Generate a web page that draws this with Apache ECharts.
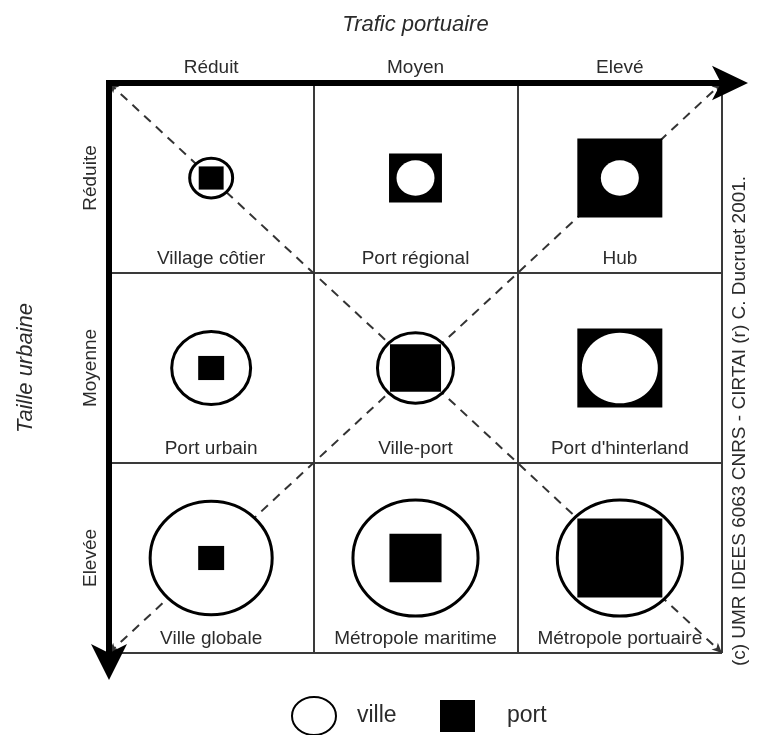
<!DOCTYPE html>
<html><head><meta charset="utf-8">
<script src="https://cdn.jsdelivr.net/npm/echarts@6/dist/echarts.min.js"></script>
<style>html,body{margin:0;padding:0;background:#fff}#c{width:758px;height:735px}</style>
</head><body><div id="c"></div>
<script>
// ---- data ----
const trafic = ['Réduit', 'Moyen', 'Elevé'];            // columns (Trafic portuaire)
const taille = ['Réduite', 'Moyenne', 'Elevée'];        // rows (Taille urbaine)
const typologie = ['Village côtier', 'Port régional', 'Hub',
                   'Port urbain', 'Ville-port', "Port d'hinterland",
                   'Ville globale', 'Métropole maritime', 'Métropole portuaire'];
// relative glyph sizes (in cell units)
const villeSize = [0.225, 0.186, 0.186, 0.401, 0.387, 0.372, 0.612, 0.627, 0.627];
const portSize  = [0.122, 0.259, 0.416, 0.127, 0.250, 0.416, 0.127, 0.255, 0.416];
const diagonales = [[[0, 0], [3, 3]], [[0, 3], [3, 0]]];
const legendNames = ['ville', 'port'];
const titleX = 'Trafic portuaire';
const titleY = 'Taille urbaine';
const credit = '(c) UMR IDEES 6063 CNRS - CIRTAI (r) C. Ducruet 2001.';

const FONT = 'Liberation Sans, Arial, Helvetica, sans-serif';
const TXT = '#2b2b2b';

const cellOf = i => [i % 3 + 0.5, Math.floor(i / 3) + 0.5];
const villeData = villeSize.map((v, i) => cellOf(i).concat([v]));
const portData = portSize.map((v, i) => cellOf(i).concat([v]));
const nameData = typologie.map((n, i) => { const c = cellOf(i); return [c[0], c[1] + 0.425]; });

const chart = echarts.init(document.getElementById('c'));
const axisLineStyle = { color: '#000', width: 6, cap: 'square' };

chart.setOption({
  animation: false,
  backgroundColor: '#fff',
  textStyle: { fontFamily: FONT },
  grid: { left: 109, top: 83, right: 36, bottom: 82 },
  xAxis: [{
    type: 'category', data: trafic, position: 'top', z: 5,
    axisLine: { show: true, symbol: ['none', 'arrow'], symbolSize: [26, 36], symbolOffset: [0, 26], lineStyle: axisLineStyle },
    axisTick: { show: false },
    axisLabel: { margin: 6, fontSize: 19, color: TXT, fontFamily: FONT },
    splitLine: { show: false },
    name: titleX, nameLocation: 'middle', nameGap: 47,
    nameTextStyle: { fontSize: 22, fontStyle: 'italic', color: TXT, fontFamily: FONT }
  }, {
    type: 'value', min: 0, max: 3, interval: 1, position: 'bottom',
    axisLine: { show: false }, axisTick: { show: false }, axisLabel: { show: false },
    splitLine: { show: true, showMinLine: false, lineStyle: { color: '#3a3a3a', width: 2 } }
  }],
  yAxis: [{
    type: 'category', data: taille, inverse: true, position: 'left', z: 5,
    axisLine: { show: true, symbol: ['arrow', 'none'], symbolSize: [27, 36], symbolOffset: [-27, 0], lineStyle: axisLineStyle },
    axisTick: { show: false },
    axisLabel: { rotate: 90, margin: 9, fontSize: 19, color: TXT, fontFamily: FONT },
    splitLine: { show: false },
    name: titleY, nameLocation: 'middle', nameRotate: 90, nameGap: 72,
    nameTextStyle: { fontSize: 22, fontStyle: 'italic', color: TXT, fontFamily: FONT }
  }, {
    type: 'value', min: 0, max: 3, interval: 1, inverse: true, position: 'right',
    axisLine: { show: false }, axisTick: { show: false }, axisLabel: { show: false },
    splitLine: { show: true, showMinLine: false, lineStyle: { color: '#3a3a3a', width: 2 } }
  }],
  legend: [{
    data: [{ name: legendNames[0], icon: 'path://M22,0A22,19,0,1,1,22,38A22,19,0,1,1,22,0Z',
             itemStyle: { color: '#fff', borderColor: '#000', borderWidth: 2 } }],
    left: 286, top: 691, itemWidth: 44, itemHeight: 38, selectedMode: false,
    textStyle: { fontSize: 23, color: TXT, fontFamily: FONT, padding: [0, 0, 0, 16] }
  }, {
    data: [{ name: legendNames[1], icon: 'rect', itemStyle: { color: '#000', borderWidth: 0 } }],
    left: 435, top: 695, itemWidth: 35, itemHeight: 32, selectedMode: false,
    textStyle: { fontSize: 23, color: TXT, fontFamily: FONT, padding: [0, 0, 0, 27] }
  }],
  graphic: [{
    type: 'text', x: 740, y: 421, rotation: Math.PI / 2,
    style: { text: credit, font: '19px ' + FONT, fill: TXT, align: 'center', verticalAlign: 'middle' }
  }],
  series: [{
    type: 'line', name: 'diagonales', xAxisIndex: 1, yAxisIndex: 1, data: [], z: 1, silent: true,
    markLine: {
      z: 1, silent: true, symbol: ['arrow', 'arrow'], symbolSize: [7, 10],
      label: { show: false }, emphasis: { disabled: true },
      lineStyle: { color: '#333', width: 2, type: [9, 7] },
      data: diagonales.map(d => [{ coord: d[0] }, { coord: d[1] }])
    }
  }, {
    type: 'custom', name: legendNames[0], xAxisIndex: 1, yAxisIndex: 1, z: 2, silent: true,
    itemStyle: { color: '#fff', borderColor: '#000', borderWidth: 2 },
    data: villeData,
    renderItem: function (params, api) {
      const i = params.dataIndex;
      const c = api.coord([api.value(0), api.value(1)]);
      const s = api.size([api.value(2), api.value(2)]);
      const outer = villeSize[i] > portSize[i];
      return {
        type: 'ellipse', z2: outer ? 1 : 3,
        shape: { cx: c[0], cy: c[1], rx: s[0] / 2 - (outer ? 1.5 : 0), ry: s[1] / 2 - (outer ? 1.5 : 0) },
        style: { fill: '#fff', stroke: outer ? '#000' : null, lineWidth: 3 }
      };
    }
  }, {
    type: 'custom', name: legendNames[1], xAxisIndex: 1, yAxisIndex: 1, z: 2, silent: true,
    itemStyle: { color: '#000' },
    data: portData,
    renderItem: function (params, api) {
      const i = params.dataIndex;
      const c = api.coord([api.value(0), api.value(1)]);
      const s = api.size([api.value(2), api.value(2)]);
      const outer = villeSize[i] > portSize[i];
      return {
        type: 'rect', z2: outer ? 3 : 1,
        shape: { x: c[0] - s[0] / 2, y: c[1] - s[1] / 2, width: s[0], height: s[1] },
        style: { fill: '#000' }
      };
    }
  }, {
    type: 'custom', name: 'noms', xAxisIndex: 1, yAxisIndex: 1, z: 3, silent: true,
    data: nameData,
    renderItem: function (params, api) {
      const c = api.coord([api.value(0), api.value(1)]);
      return {
        type: 'text',
        style: { x: c[0], y: c[1], text: typologie[params.dataIndex], fill: TXT,
                 font: '19px ' + FONT, align: 'center', verticalAlign: 'middle' }
      };
    }
  }]
});
</script></body></html>
